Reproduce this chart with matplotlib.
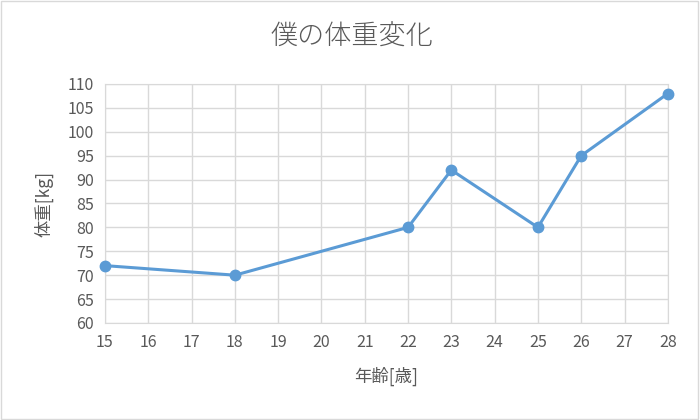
import matplotlib
matplotlib.use("Agg")
import matplotlib.pyplot as plt
from matplotlib.patches import Rectangle

plt.rcParams['font.family'] = ['Noto Sans CJK JP', 'DejaVu Sans']

ages = [15, 18, 22, 23, 25, 26, 28]
weights = [72, 70, 80, 92, 80, 95, 108]
x_ticks = list(range(15, 29))
y_ticks = list(range(60, 111, 5))

text_color = '#595959'
line_color = '#5B9BD5'
grid_color = '#D9D9D9'

fig = plt.figure(figsize=(7, 4.2), dpi=100)
ax = fig.add_axes([0.15, 0.231, 0.804, 0.569])

ax.plot(ages, weights, color=line_color, linewidth=2.2, marker='o',
        markersize=7.5, zorder=3, clip_on=False)

ax.set_xlim(15, 28)
ax.set_ylim(60, 110)
ax.set_xticks(x_ticks)
ax.set_yticks(y_ticks)
ax.grid(True, color=grid_color, linewidth=1)
ax.set_axisbelow(True)
for s in ax.spines.values():
    s.set_color(grid_color)
ax.tick_params(length=0, colors=text_color, labelsize=11.5, pad=8)

fig.text(0.502, 0.912, '僕の体重変化', color=text_color, fontsize=19.5,
         fontweight='light', ha='center', va='center')
ax.set_xlabel('年齢[歳]', color=text_color, fontsize=12.5, labelpad=11)
ax.set_ylabel('体重[kg]', color=text_color, fontsize=12.5, labelpad=10)

fig.patches.append(Rectangle((0.0015, 0.0025), 0.995, 0.995, transform=fig.transFigure,
                             fill=False, edgecolor='#D9D9D9', linewidth=1))

fig.savefig('out.png', dpi=100)
